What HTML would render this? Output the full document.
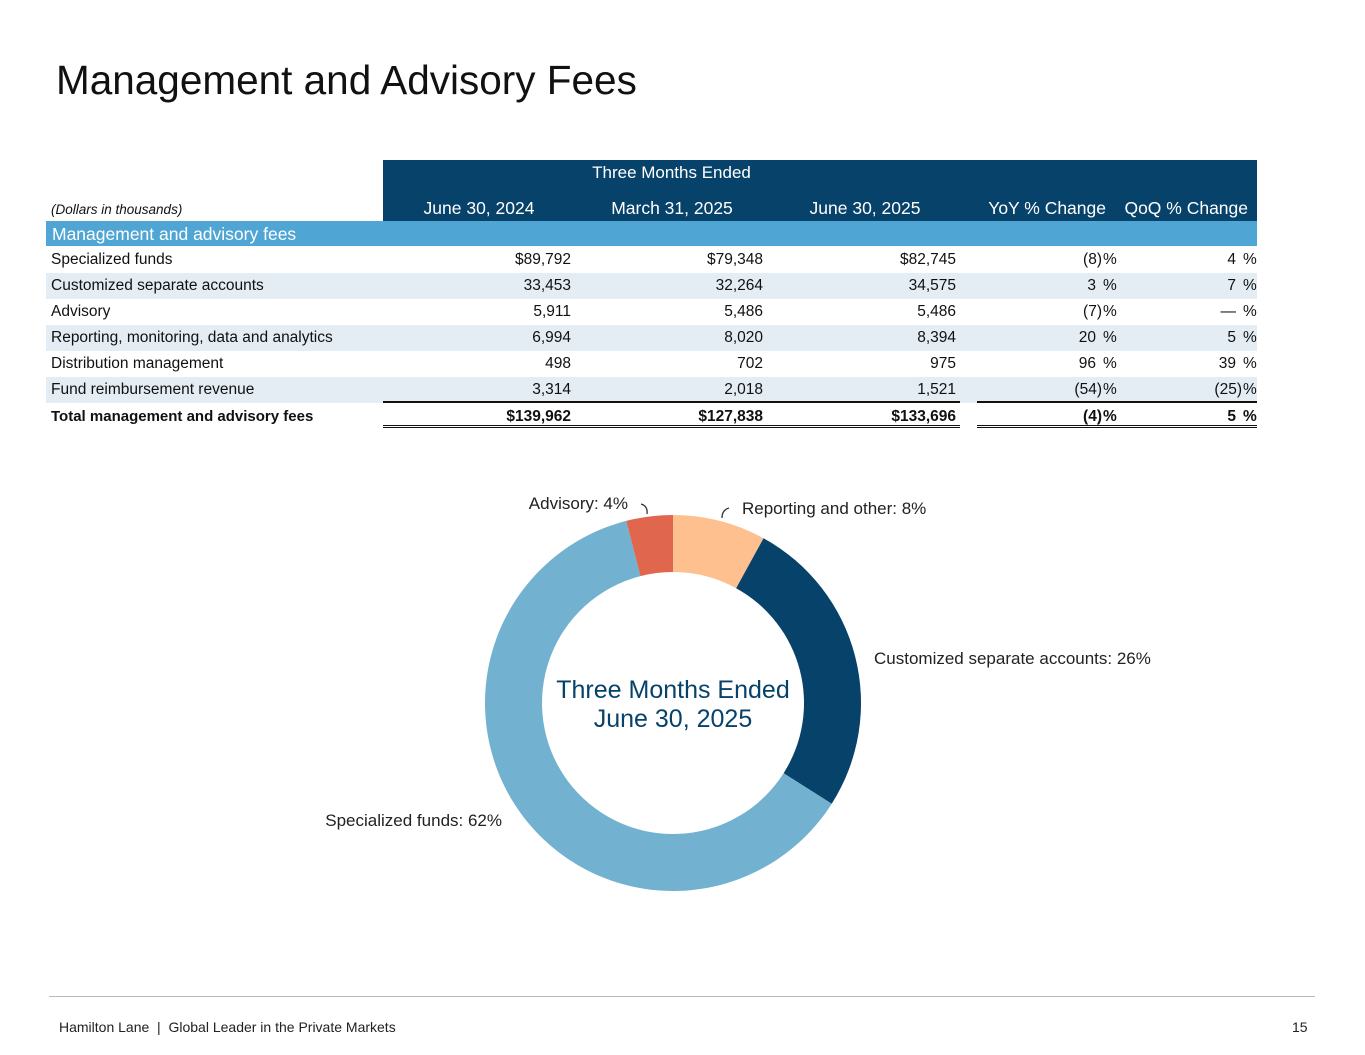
<!DOCTYPE html>
<html><head><meta charset="utf-8"><style>
body{margin:0;width:1365px;height:1055px;background:#fff;font-family:"Liberation Sans",sans-serif;color:#111;position:relative;overflow:hidden}
.a{position:absolute;white-space:nowrap}
.r{text-align:right}
.row{position:absolute;left:46px;width:1211px;height:26px}
.cell{position:absolute;top:4px;font-size:15.5px}
</style></head><body>
<div class="a" style="left:56px;top:57px;font-size:40.5px;color:#111">Management and Advisory Fees</div>

<div class="a" style="left:383px;top:160px;width:874px;height:61px;background:#07426a"></div>
<div class="a" style="left:383px;top:163px;width:577px;text-align:center;color:#fff;font-size:17px">Three Months Ended</div>
<div class="a" style="left:51px;top:202px;font-size:13.5px;font-style:italic">(Dollars in thousands)</div>
<div class="a" style="left:383px;top:198px;width:192px;text-align:center;color:#fff;font-size:17.5px">June 30, 2024</div>
<div class="a" style="left:576px;top:198px;width:192px;text-align:center;color:#fff;font-size:17.5px">March 31, 2025</div>
<div class="a" style="left:769px;top:198px;width:192px;text-align:center;color:#fff;font-size:17.5px">June 30, 2025</div>
<div class="a r" style="left:940px;top:198px;width:166px;color:#fff;font-size:17.5px">YoY % Change</div>
<div class="a r" style="left:1086px;top:198px;width:162px;color:#fff;font-size:17.5px">QoQ % Change</div>

<div class="a" style="left:46px;top:221px;width:1211px;height:25px;background:#4fa6d4;color:#fff;font-size:17.5px"><span style="position:absolute;left:6px;top:3px">Management and advisory fees</span></div>

<div id="rows"></div>

<div class="a" style="left:383px;top:401px;width:577px;height:1.5px;background:#111"></div>
<div class="a" style="left:977px;top:401px;width:280px;height:1.5px;background:#111"></div>
<div class="a" style="left:383px;top:425px;width:577px;height:1px;border-top:1.5px solid #111;border-bottom:1.5px solid #111;box-sizing:content-box"></div>
<div class="a" style="left:977px;top:425px;width:280px;height:1px;border-top:1.5px solid #111;border-bottom:1.5px solid #111;box-sizing:content-box"></div>

<svg class="a" style="left:0;top:440px" width="1365" height="520" id="donut"></svg>

<div class="a" style="left:49px;top:996px;width:1266px;height:1px;background:#bbb"></div>
<div class="a" style="left:59px;top:1019px;font-size:14px;color:#222">Hamilton Lane &nbsp;|&nbsp; Global Leader in the Private Markets</div>
<div class="a" style="left:1292px;top:1019px;font-size:14px;color:#222">15</div>

<script>
const rowLabels=["Specialized funds","Customized separate accounts","Advisory","Reporting, monitoring, data and analytics","Distribution management","Fund reimbursement revenue","Total management and advisory fees"];
const jun24=["$89,792","33,453","5,911","6,994","498","3,314","$139,962"];
const mar25=["$79,348","32,264","5,486","8,020","702","2,018","$127,838"];
const jun25=["$82,745","34,575","5,486","8,394","975","1,521","$133,696"];
const yoy=["(8)","3","(7)","20","96","(54)","(4)"];
const qoq=["4","7","—","5","39","(25)","5"];
const rowsEl=document.getElementById('rows');
function padR(v,edge){return v.endsWith(')')?edge:edge-6;}
rowLabels.forEach((lab,i)=>{
  const r=document.createElement('div');
  r.className='row';
  
  
  r.style.top=(247+i*26)+'px';
  const total=i===rowLabels.length-1;
  if(i%2===1&&!total) r.style.background='#e4edf4';
  const fw=total?'font-weight:bold;':'';
  const tq=total?'5':'4';
  r.innerHTML=
   `<span class="cell" style="left:5px;${fw}${total?'font-size:15px;top:5px':''}">${lab}</span>`+
   `<span class="cell r" style="right:${1257-571}px;top:${tq}px;${fw}">${jun24[i]}</span>`+
   `<span class="cell r" style="right:${1257-763}px;top:${tq}px;${fw}">${mar25[i]}</span>`+
   `<span class="cell r" style="right:${1257-956}px;top:${tq}px;${fw}">${jun25[i]}</span>`+
   `<span class="cell r" style="right:${1257-padR(yoy[i],1102)}px;top:${tq}px;${fw}">${yoy[i]}</span>`+
   `<span class="cell" style="left:${1103-46}px;top:${tq}px;${fw}">%</span>`+
   `<span class="cell r" style="right:${1257-padR(qoq[i],1242)}px;top:${tq}px;${fw}">${qoq[i]}</span>`+
   `<span class="cell" style="left:${1243-46}px;top:${tq}px;${fw}">%</span>`;
  rowsEl.appendChild(r);
});

const sliceNames=["Reporting and other","Customized separate accounts","Specialized funds","Advisory"];
const slicePcts=[8,26,62,4];
const sliceColors=["#fec08f","#07426a","#72b1cf","#e0674e"];
const svg=document.getElementById('donut');
const NS='http://www.w3.org/2000/svg';
const cx=673,cy=263,R=188,ri=131;
const total=slicePcts.reduce((a,b)=>a+b,0);
function pt(f,rad){const a=f*2*Math.PI;return [cx+rad*Math.sin(a),cy-rad*Math.cos(a)];}
let acc=0;
slicePcts.forEach((v,i)=>{
  const f0=acc/total,f1=(acc+v)/total;acc+=v;
  const [x0,y0]=pt(f0,R),[x1,y1]=pt(f1,R),[x2,y2]=pt(f1,ri),[x3,y3]=pt(f0,ri);
  const lg=(f1-f0)>0.5?1:0;
  const p=document.createElementNS(NS,'path');
  p.setAttribute('d',`M${x0},${y0}A${R},${R} 0 ${lg} 1 ${x1},${y1}L${x2},${y2}A${ri},${ri} 0 ${lg} 0 ${x3},${y3}Z`);
  p.setAttribute('fill',sliceColors[i]);
  
  
  svg.appendChild(p);
});
const labelPos=[[742,74,'start'],[874,224,'start'],[502,386,'end'],[628,69,'end']];
sliceNames.forEach((n,i)=>{
  const t=document.createElementNS(NS,'text');
  t.setAttribute('x',labelPos[i][0]);t.setAttribute('y',labelPos[i][1]);
  t.setAttribute('text-anchor',labelPos[i][2]);
  t.setAttribute('font-size','17');t.setAttribute('fill','#222');
  t.setAttribute('font-family','Liberation Sans, sans-serif');
  t.textContent=n+': '+slicePcts[i]+'%';
  
  
  svg.appendChild(t);
});
[["M641,64 Q648,66 647,74"],["M722,78 Q722,70 729,68"]].forEach(d=>{
  const l=document.createElementNS(NS,'path');
  l.setAttribute('d',d[0]);l.setAttribute('stroke','#333');l.setAttribute('fill','none');l.setAttribute('stroke-width','1.3');
  
  
  svg.appendChild(l);
});
["Three Months Ended","June 30, 2025"].forEach((s,i)=>{
  const t=document.createElementNS(NS,'text');
  t.setAttribute('x',cx);t.setAttribute('y',258+i*29);
  t.setAttribute('text-anchor','middle');t.setAttribute('font-size','25');t.setAttribute('fill','#07426a');
  t.setAttribute('font-family','Liberation Sans, sans-serif');
  t.textContent=s;
  
  
  svg.appendChild(t);
});
</script>
</body></html>
